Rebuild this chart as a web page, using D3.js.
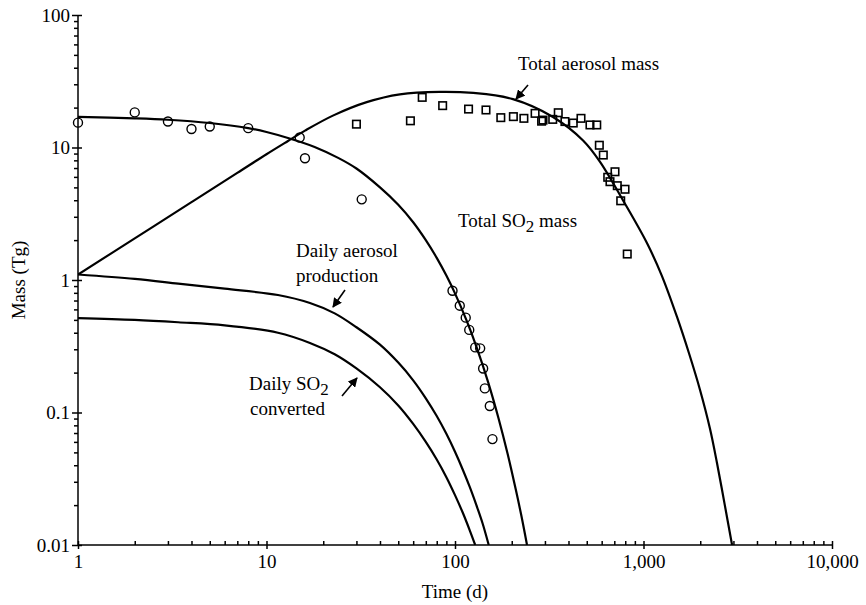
<!DOCTYPE html>
<html>
<head>
<meta charset="utf-8">
<script src="https://cdn.jsdelivr.net/npm/d3@7"></script>
<style>
  html, body { margin: 0; padding: 0; background: #fff; }
  svg { display: block; font-family: "Liberation Serif", "DejaVu Serif", serif; }
</style>
</head>
<body>
<svg id="chart" width="866" height="605"></svg>
<script>
// Axis ticks and labels
const xTicks = [1, 10, 100, 1000, 10000];
const xTickLabels = ["1", "10", "100", "1,000", "10,000"];
const yTicks = [0.01, 0.1, 1, 10, 100];
const yTickLabels = ["0.01", "0.1", "1", "10", "100"];

// Model curves (time in days, mass in Tg)
const so2Days  = [1, 2, 3, 5, 8, 10, 13, 18, 24, 30, 40, 50, 60, 70, 80, 90, 100, 115, 130, 150, 170, 190, 210, 225, 241];
const so2Mass  = [17.0, 16.6, 16.2, 15.3, 14.0, 13.1, 11.8, 10.1, 8.35, 6.94, 5.0, 3.7, 2.73, 2.0, 1.47, 1.08, 0.793, 0.498, 0.313, 0.169, 0.091, 0.049, 0.0263, 0.0166, 0.01];

const aerosolDays = [1, 2, 4, 7, 10, 13, 16, 22.5, 34, 51, 83, 125, 203, 331, 478, 588, 778, 1043, 1250, 1506, 1750, 1995, 2250, 2454, 2700, 2950];
const aerosolMass = [1.1, 2.06, 3.87, 6.43, 8.9, 11.2, 13.4, 17.4, 22.0, 25.2, 26.3, 25.8, 23.2, 17.0, 11.3, 7.8, 4.0, 1.9, 1.08, 0.526, 0.275, 0.148, 0.076, 0.0416, 0.02, 0.01];

const productionDays = [1, 2, 3.4, 6, 11.5, 17, 23, 30, 40, 50, 60, 70, 80, 90, 100, 110, 120, 130, 140, 151];
const productionMass = [1.1, 1.02, 0.94, 0.86, 0.77, 0.67, 0.56, 0.44, 0.325, 0.238, 0.175, 0.128, 0.094, 0.069, 0.0505, 0.037, 0.0272, 0.0199, 0.0146, 0.01];

const convertedDays = [1, 2, 3.4, 6, 11.5, 17, 23, 30, 40, 50, 60, 70, 80, 90, 100, 110, 120, 128];
const convertedMass = [0.516, 0.50, 0.48, 0.455, 0.40, 0.335, 0.275, 0.215, 0.155, 0.113, 0.082, 0.060, 0.0442, 0.0325, 0.0238, 0.0175, 0.0128, 0.01];

// Observations
const obsSo2Days = [1, 2, 3, 4, 5, 8, 15, 16, 32, 97, 106, 114, 119, 128, 136, 141, 144, 153, 158];
const obsSo2Mass = [15.4, 18.4, 15.7, 13.8, 14.4, 14.0, 11.9, 8.3, 4.06, 0.83, 0.64, 0.52, 0.42, 0.31, 0.305, 0.215, 0.152, 0.112, 0.063];

const obsAerosolDays = [30, 58, 67, 86, 118, 146, 175, 204, 232, 266, 288, 293, 330, 353, 383, 424, 466, 520, 565, 583, 612, 646, 664, 706, 726, 757, 798, 820];
const obsAerosolMass = [15.0, 15.9, 23.9, 20.7, 19.5, 19.2, 16.8, 17.1, 16.6, 18.1, 15.8, 16.1, 16.3, 18.3, 15.7, 15.3, 16.6, 14.8, 14.8, 10.4, 8.77, 5.96, 5.52, 6.56, 5.15, 3.96, 4.84, 1.57];

const svg = d3.select("#chart");
svg.append("rect").attr("width", 866).attr("height", 605).attr("fill", "#fff");

const x = d3.scaleLog().domain([1, 10000]).range([78, 832]);
const y = d3.scaleLog().domain([0.01, 100]).range([545, 15]);

const minorOf = (lo, hi) => {
  const out = [];
  for (let p = lo; p < hi; p++) for (let k = 2; k <= 9; k++) out.push(k * Math.pow(10, p));
  return out;
};
const xMinor = minorOf(0, 4);
const yMinor = minorOf(-2, 2);

const fontSize = 19;
const axisColor = "#000";

function styleAxis(g) {
  g.selectAll("path.domain").remove();
  g.selectAll("line").attr("stroke", axisColor).attr("stroke-width", 1.5);
  g.selectAll("text").attr("font-family", "Liberation Serif, serif").attr("font-size", fontSize).attr("fill", "#000");
}

// Y axis: minor ticks outside, major ticks crossing the axis line
svg.append("g").attr("transform", "translate(78,0)")
  .call(d3.axisLeft(y).tickValues(yMinor).tickSize(4).tickFormat(""))
  .call(styleAxis);
svg.append("g").attr("transform", "translate(78,0)")
  .call(d3.axisRight(y).tickValues(yTicks).tickSize(4).tickFormat(""))
  .call(styleAxis);
svg.append("g").attr("transform", "translate(78,0)")
  .call(d3.axisLeft(y).tickValues(yTicks).tickSize(6).tickPadding(2)
    .tickFormat((d, i) => yTickLabels[i]))
  .call(styleAxis);
svg.append("line").attr("x1", 78).attr("x2", 78).attr("y1", 15).attr("y2", 545)
  .attr("stroke", axisColor).attr("stroke-width", 1.5);

// X axis: minor ticks inside, major ticks crossing the axis line
svg.append("g").attr("transform", "translate(0,545)")
  .call(d3.axisTop(x).tickValues(xMinor).tickSize(4).tickFormat(""))
  .call(styleAxis);
svg.append("g").attr("transform", "translate(0,545)")
  .call(d3.axisTop(x).tickValues(xTicks).tickSize(4).tickFormat(""))
  .call(styleAxis);
svg.append("g").attr("transform", "translate(0,545)")
  .call(d3.axisBottom(x).tickValues(xTicks).tickSize(4).tickPadding(6)
    .tickFormat((d, i) => xTickLabels[i]))
  .call(styleAxis);
svg.append("line").attr("x1", 78).attr("x2", 832).attr("y1", 545).attr("y2", 545)
  .attr("stroke", axisColor).attr("stroke-width", 1.5);

// Axis titles
svg.append("text").attr("x", 455).attr("y", 598).attr("text-anchor", "middle")
  .attr("font-size", fontSize).text("Time (d)");
svg.append("text").attr("transform", "translate(25,280) rotate(-90)")
  .attr("text-anchor", "middle").attr("font-size", fontSize).text("Mass (Tg)");

// Curves
svg.append("clipPath").attr("id", "plot").append("rect")
  .attr("x", 78).attr("y", 0).attr("width", 760).attr("height", 545);

const line = d3.line().x(d => x(d[0])).y(d => y(d[1])).curve(d3.curveCatmullRom.alpha(0.5));
const curves = [
  d3.zip(so2Days, so2Mass),
  d3.zip(aerosolDays, aerosolMass),
  d3.zip(productionDays, productionMass),
  d3.zip(convertedDays, convertedMass)
];
svg.append("g").attr("clip-path", "url(#plot)")
  .selectAll("path").data(curves).join("path")
  .attr("d", line).attr("fill", "none").attr("stroke", "#000").attr("stroke-width", 2.2)
  .attr("stroke-linejoin", "round");

// Observed SO2 (circles)
svg.append("g").selectAll("circle").data(d3.zip(obsSo2Days, obsSo2Mass)).join("circle")
  .attr("cx", d => x(d[0])).attr("cy", d => y(d[1])).attr("r", 4.5)
  .attr("fill", "none").attr("stroke", "#000").attr("stroke-width", 1.4);

// Observed aerosol (squares)
const sq = 7.5;
svg.append("g").selectAll("rect").data(d3.zip(obsAerosolDays, obsAerosolMass)).join("rect")
  .attr("x", d => x(d[0]) - sq / 2).attr("y", d => y(d[1]) - sq / 2)
  .attr("width", sq).attr("height", sq)
  .attr("fill", "none").attr("stroke", "#000").attr("stroke-width", 1.6);

// Labels with arrows
svg.append("defs").append("marker").attr("id", "head")
  .attr("viewBox", "0 0 10 10").attr("refX", 9).attr("refY", 5)
  .attr("markerWidth", 6).attr("markerHeight", 6).attr("orient", "auto")
  .append("path").attr("d", "M0,0 L10,5 L0,10 Z").attr("fill", "#000");

function arrow(x1, y1, x2, y2) {
  svg.append("line").attr("x1", x1).attr("y1", y1).attr("x2", x2).attr("y2", y2)
    .attr("stroke", "#000").attr("stroke-width", 1.6).attr("marker-end", "url(#head)");
}

svg.append("text").attr("x", 518).attr("y", 70).attr("font-size", fontSize).text("Total aerosol mass");
arrow(528, 85, 516, 99);

const so2Label = svg.append("text").attr("x", 458).attr("y", 227).attr("font-size", fontSize);
so2Label.append("tspan").text("Total SO");
so2Label.append("tspan").attr("dy", 5).attr("font-size", 17).text("2");
so2Label.append("tspan").attr("dy", -5).text(" mass");

svg.append("text").attr("x", 296).attr("y", 257).attr("font-size", fontSize).text("Daily aerosol");
svg.append("text").attr("x", 296).attr("y", 282).attr("font-size", fontSize).text("production");
arrow(345, 290, 333, 307);

const convLabel = svg.append("text").attr("x", 249).attr("y", 390).attr("font-size", fontSize);
convLabel.append("tspan").text("Daily SO");
convLabel.append("tspan").attr("dy", 5).attr("font-size", 17).text("2");
svg.append("text").attr("x", 250).attr("y", 415).attr("font-size", fontSize).text("converted");
arrow(342, 396, 357, 378);
</script>
</body>
</html>
